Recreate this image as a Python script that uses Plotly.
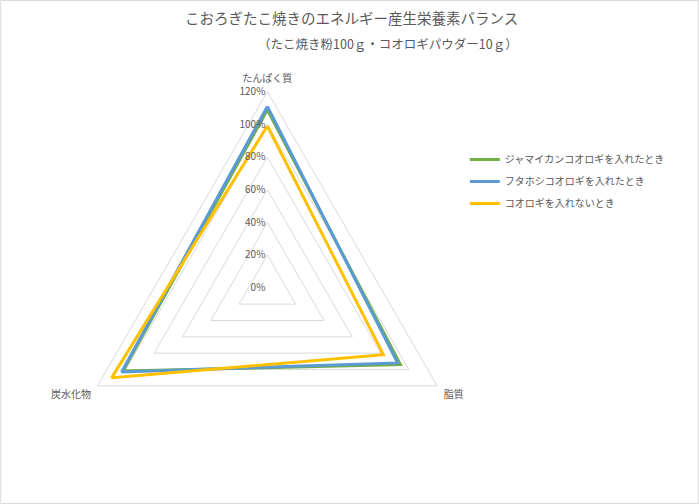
import plotly.graph_objects as go

# 軸ラベル（時計回り、上から）
categories = ["たんぱく質", "脂質", "炭水化物"]

# 各条件の値（目標比）
jamaican = [1.09, 0.94, 1.02]
futahoshi = [1.11, 0.92, 1.03]
no_cricket = [0.99, 0.82, 1.10]

series_names = ["ジャマイカンコオロギを入れたとき", "フタホシコオロギを入れたとき", "コオロギを入れないとき"]
series_colors = ["#70AD47", "#5B9BD5", "#FFC000"]

radial_ticks = [0, 0.2, 0.4, 0.6, 0.8, 1.0, 1.2]

FONT = "Noto Sans CJK JP"
GRAY = "#595959"
W, H = 699, 504


def closed(vals):
    """ close the polygon """
    return list(vals) + [vals[0]]


def main():
    fig = go.Figure()

    for i, (vals, name, color) in enumerate(zip([jamaican, futahoshi, no_cricket], series_names, series_colors)):
        fig.add_trace(go.Scatterpolar(
            r=closed(vals),
            theta=closed(categories),
            name=name,
            legendgroup="g%d" % i,
            mode="lines",
            line=dict(color=color, width=3),
        ))

    fig.update_layout(
        width=W,
        height=H,
        margin=dict(l=0, r=0, t=0, b=0),
        paper_bgcolor="white",
        plot_bgcolor="white",
        font=dict(family=FONT, size=10, color=GRAY),
        showlegend=True,
        legend=dict(
            x=0.665, y=1 - 145 / H, xanchor="left", yanchor="top",
            font=dict(size=10, color=GRAY),
            bgcolor="rgba(0,0,0,0)",
            traceorder="grouped",
            tracegroupgap=3,
        ),
        polar=dict(
            domain=dict(x=[0.102, 0.663], y=[0.040, 0.818]),
            bgcolor="white",
            gridshape="linear",
            radialaxis=dict(
                range=[0, 1.2],
                tickvals=radial_ticks,
                tickformat=".0%",
                angle=90,
                tickangle=90,
                side="counterclockwise",
                showline=False,
                ticks="",
                gridcolor="#D9D9D9",
                gridwidth=1,
                tickfont=dict(size=10, color=GRAY),
            ),
            angularaxis=dict(
                rotation=90,
                direction="clockwise",
                showgrid=False,
                showline=True,
                linecolor="#D9D9D9",
                linewidth=1,
                ticks="outside",
                ticklen=5,
                tickcolor="rgba(0,0,0,0)",
                tickfont=dict(size=10, color=GRAY),
            ),
        ),
        annotations=[
            dict(text="こおろぎたこ焼きのエネルギー産生栄養素バランス", x=351 / W, y=1 - 18 / H,
                 xref="paper", yref="paper", yanchor="middle", showarrow=False,
                 font=dict(size=14.5, color=GRAY)),
            dict(text="（たこ焼き粉100ｇ・コオロギパウダー10ｇ）", x=388 / W, y=1 - 43 / H,
                 xref="paper", yref="paper", yanchor="middle", showarrow=False,
                 font=dict(size=12.5, color=GRAY)),
        ],
        shapes=[
            dict(type="rect", xref="paper", yref="paper", x0=0.001, x1=0.999, y0=0.001, y1=0.999,
                 line=dict(color="#D9D9D9", width=1)),
        ],
    )

    # page has a default body margin, drop it so the figure fills the window
    fig.write_html("out.html", config={"displayModeBar": False},
                   post_script="document.body.style.margin='0';")


if __name__ == "__main__":
    main()
